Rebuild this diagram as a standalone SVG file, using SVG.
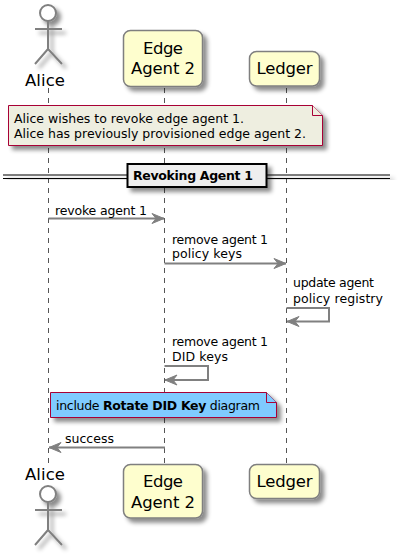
<svg xmlns="http://www.w3.org/2000/svg" width="401" height="555" viewBox="0 0 401 555">
<style>
text{font-family:"DejaVu Sans",Verdana,sans-serif;fill:#000}
.t{font-size:12.5px}
.p{font-size:16.5px;text-anchor:middle}
.box{fill:#FEFECE;stroke:#7f7f7f;stroke-width:1.5}
.note{stroke:#A80036;stroke-width:1}
.life{stroke:#555;stroke-width:1;stroke-dasharray:5 5;fill:none}
.msg{stroke:#808080;stroke-width:2;fill:none}
.act{fill:none;stroke:#808080;stroke-width:2}
.head{fill:#fff;stroke:#808080;stroke-width:2}
</style>
<defs>
<filter id="sh" x="-30%" y="-30%" width="170%" height="170%"><feDropShadow dx="4" dy="4" stdDeviation="2" flood-color="#000" flood-opacity="0.45"/></filter>
<marker id="ah" markerUnits="userSpaceOnUse" markerWidth="14" markerHeight="12" refX="13" refY="6" orient="auto-start-reverse"><path d="M1 1 L13 6 L1 11 L5 6 Z" fill="#808080" stroke="#808080" stroke-width="1"/></marker>
</defs>
<g id="lifelines">
<path class="life" d="M48.5 88V464"/>
<path class="life" d="M164.5 88V464"/>
<path class="life" d="M286.5 88V464"/>
</g>
<g id="alice-top">
<g filter="url(#sh)"><circle class="head" cx="48" cy="13" r="8"/><path class="act" d="M48 21V49M35 29H62M48 49L35 64M48 49L62 64"/></g>
<text class="p" x="45" y="86" textLength="40">Alice</text>
</g>
<g id="edge-top">
<rect class="box" filter="url(#sh)" x="123.5" y="30.5" width="79" height="56" rx="7"/>
<text class="p" x="163" y="54" textLength="40">Edge</text><text class="p" x="163" y="74" textLength="64">Agent 2</text>
</g>
<g id="ledger-top">
<rect class="box" filter="url(#sh)" x="249.5" y="51.5" width="70" height="34.5" rx="7"/>
<text class="p" x="284.500" y="74" textLength="56">Ledger</text>
</g>
<g id="note-intro">
<path class="note" filter="url(#sh)" fill="#EEEEE0" d="M8.500 105.500H312.500L322.500 115.500V145.500H8.500Z"/>
<path class="note" fill="#EEEEE0" d="M312.500 105.500V115.500H322.500"/>
<text class="t" x="14" y="123" textLength="230">Alice wishes to revoke edge agent 1.</text>
<text class="t" x="14" y="138" textLength="292">Alice has previously provisioned edge agent 2.</text>
</g>
<g id="divider">
<g filter="url(#sh)"><path d="M3 175H390M3 178.500H390" stroke="#000" stroke-width="1.100" fill="none"/></g>
<rect filter="url(#sh)" x="127.500" y="164" width="139" height="23" fill="#EEEEEE" stroke="#000" stroke-width="2"/>
<text x="133" y="180" font-size="12.500" font-weight="bold" textLength="120">Revoking Agent 1</text>
</g>
<g id="connectors">
<path class="msg" marker-end="url(#ah)" d="M48.500 218.500H164"/>
<path class="msg" marker-end="url(#ah)" d="M164.500 263.500H286"/>
<path class="msg" marker-end="url(#ah)" d="M286.500 308H329V321.500H287"/>
<path class="msg" marker-end="url(#ah)" d="M164.500 366H208V380H165"/>
<path class="msg" marker-end="url(#ah)" d="M165 447.500H49"/>
</g>
<g id="labels">
<text class="t" x="55" y="215" textLength="92">revoke agent 1</text>
<text class="t" x="172" y="244" textLength="96">remove agent 1</text>
<text class="t" x="172" y="258" textLength="70">policy keys</text>
<text class="t" x="293" y="287" textLength="81">update agent</text>
<text class="t" x="293" y="303" textLength="90">policy registry</text>
<text class="t" x="172" y="346" textLength="96">remove agent 1</text>
<text class="t" x="172" y="361" textLength="56">DID keys</text>
<text class="t" x="65" y="443" textLength="49">success</text>
</g>
<g id="note-include">
<path class="note" filter="url(#sh)" fill="#7FCBFF" d="M50.500 392.500H266.500L276.500 402.500V417.500H50.500Z"/>
<path class="note" fill="#7FCBFF" d="M266.500 392.500V402.500H276.500"/>
<text class="t" x="56" y="410" textLength="204">include <tspan font-weight="bold">Rotate DID Key</tspan> diagram</text>
</g>
<g id="alice-bottom">
<text class="p" x="45" y="480" textLength="40">Alice</text>
<g filter="url(#sh)"><circle class="head" cx="48" cy="494" r="8"/><path class="act" d="M48 502V530M35 510H62M48 530L35 545M48 530L62 545"/></g>
</g>
<g id="edge-bottom">
<rect class="box" filter="url(#sh)" x="123.5" y="464.5" width="79" height="53.5" rx="7"/>
<text class="p" x="163" y="487" textLength="40">Edge</text><text class="p" x="163" y="508" textLength="64">Agent 2</text>
</g>
<g id="ledger-bottom">
<rect class="box" filter="url(#sh)" x="249.5" y="464.5" width="70" height="34" rx="7"/>
<text class="p" x="284.500" y="487" textLength="56">Ledger</text>
</g>
</svg>
